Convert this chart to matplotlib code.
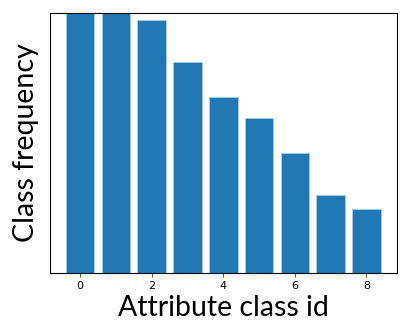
import matplotlib
matplotlib.use('Agg')
import matplotlib.pyplot as plt

# class frequencies per attribute class id (bars 0 and 1 run past the top)
class_ids = [0, 1, 2, 3, 4, 5, 6, 7, 8]
frequency = [30000, 29000, 25270, 21070, 17570, 15470, 11970, 7770, 6340]
y_top = 25980

fig = plt.figure(figsize=(4.08, 3.22), dpi=100)
ax = fig.add_axes([0.1225, 0.153, 0.8495, 0.8075])

ax.bar(class_ids, frequency, width=0.8, color='#1f77b4', edgecolor='#a9cce6', linewidth=0.6)
ax.set_ylim(0, y_top)
ax.set_yticks([])
ax.set_xticks([0, 2, 4, 6, 8])
ax.tick_params(axis='x', labelsize=8, length=3, color='#555555', pad=3)

ax.set_xlabel('Attribute class id', fontsize=20.5, family='Lato', labelpad=3)
ax.set_ylabel('Class frequency', fontsize=20.5, family='Lato', labelpad=8)

fig.savefig('out.png', dpi=100)
